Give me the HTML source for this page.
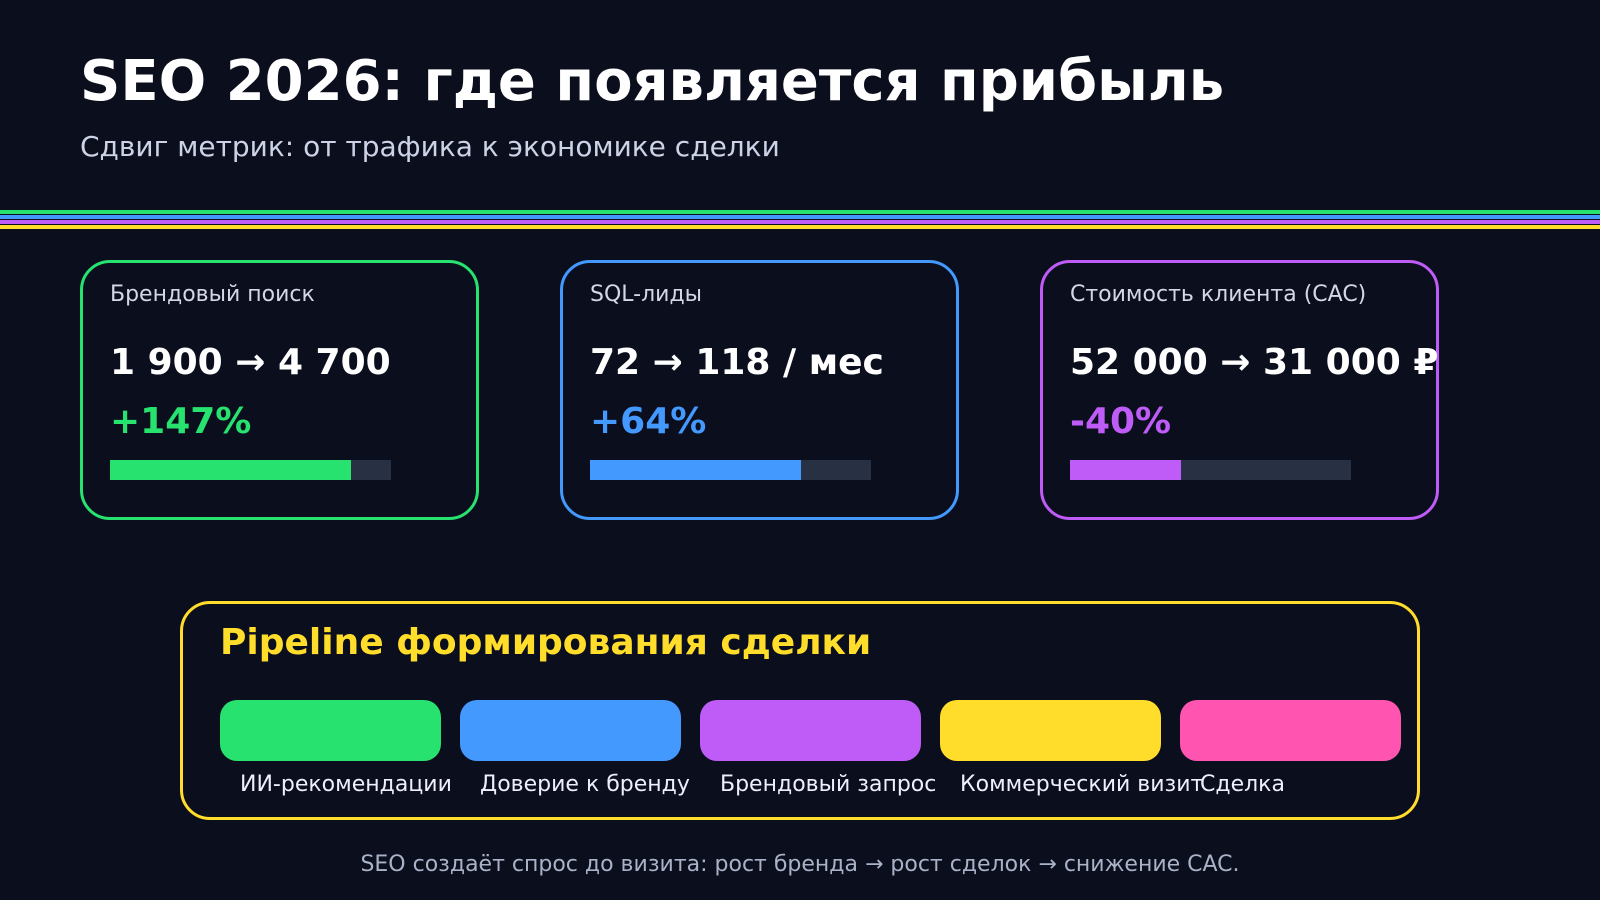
<!DOCTYPE html>
<html><head><meta charset="utf-8"><style>
*{margin:0;padding:0;box-sizing:border-box}
body{width:1600px;height:900px;background:#0a0e1d;font-family:"DejaVu Sans","Liberation Sans",sans-serif;position:relative;overflow:hidden;color:#fff}
.a{position:absolute;white-space:nowrap}
.card{position:absolute;top:260px;width:399px;height:260px;border:3px solid;border-radius:30px}
.lbl{font-size:22px;color:#d4d8e6}
.val{font-size:36px;font-weight:bold;top:342px}
.pct{font-size:36px;font-weight:bold;top:401px}
.bar{position:absolute;top:460px;height:20px;width:281px;background:#283144}
.bar div{height:100%}
.pill{position:absolute;top:700px;width:221px;height:61px;border-radius:17px}
.pl{font-size:22px;top:772px;color:#eef}
</style></head><body>
<div class="a" style="left:80px;top:49px;font-size:56px;font-weight:bold">SEO 2026: где появляется прибыль</div>
<div class="a" style="left:80px;top:130px;font-size:28px;color:#cdd3e6">Сдвиг метрик: от трафика к экономике сделки</div>
<div class="a" style="left:0;top:210px;width:1600px;height:4px;background:#27e26f"></div>
<div class="a" style="left:0;top:215px;width:1600px;height:4px;background:#4499ff"></div>
<div class="a" style="left:0;top:220px;width:1600px;height:4px;background:#bf5cf7"></div>
<div class="a" style="left:0;top:225px;width:1600px;height:4px;background:#ffdd2a"></div>

<div class="card" style="left:80px;border-color:#27e26f"></div>
<div class="card" style="left:560px;border-color:#4499ff"></div>
<div class="card" style="left:1040px;border-color:#bf5cf7"></div>

<div class="a lbl" style="left:110px;top:282px">Брендовый поиск</div>
<div class="a val" style="left:110px">1 900 → 4 700</div>
<div class="a pct" style="left:110px;color:#27e26f">+147%</div>
<div class="bar" style="left:110px"><div style="width:241px;background:#27e26f"></div></div>

<div class="a lbl" style="left:590px;top:282px">SQL-лиды</div>
<div class="a val" style="left:590px">72 → 118 / мес</div>
<div class="a pct" style="left:590px;color:#4499ff">+64%</div>
<div class="bar" style="left:590px"><div style="width:211px;background:#4499ff"></div></div>

<div class="a lbl" style="left:1070px;top:282px">Стоимость клиента (CAC)</div>
<div class="a val" style="left:1070px">52 000 → 31 000 ₽</div>
<div class="a pct" style="left:1070px;color:#bf5cf7">-40%</div>
<div class="bar" style="left:1070px"><div style="width:111px;background:#bf5cf7"></div></div>

<div class="a" style="left:180px;top:601px;width:1240px;height:219px;border:3px solid #ffdd2a;border-radius:30px"></div>
<div class="a" style="left:220px;top:622px;font-size:36px;font-weight:bold;color:#ffdd2a">Pipeline формирования сделки</div>
<div class="pill" style="left:220px;background:#27e26f"></div>
<div class="pill" style="left:460px;background:#4499ff"></div>
<div class="pill" style="left:700px;background:#bf5cf7"></div>
<div class="pill" style="left:940px;background:#ffdd2a"></div>
<div class="pill" style="left:1180px;background:#ff55b0"></div>
<div class="a pl" style="left:240px">ИИ-рекомендации</div>
<div class="a pl" style="left:480px">Доверие к бренду</div>
<div class="a pl" style="left:720px">Брендовый запрос</div>
<div class="a pl" style="left:960px">Коммерческий визит</div>
<div class="a pl" style="left:1200px">Сделка</div>

<div class="a" style="left:0;width:1600px;text-align:center;top:852px;font-size:22px;color:#aab2c8">SEO создаёт спрос до визита: рост бренда → рост сделок → снижение CAC.</div>
</body></html>
